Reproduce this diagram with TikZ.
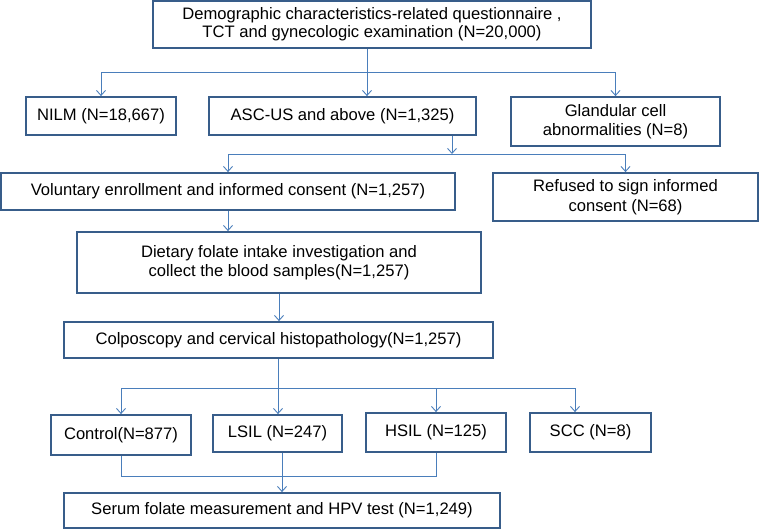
\documentclass[tikz,border=0pt]{standalone}
\usepackage{fontspec}
\setmainfont{Liberation Sans}
\usetikzlibrary{arrows.meta}

\definecolor{boxblue}{HTML}{385D8A}
\definecolor{linkblue}{HTML}{4A7EBB}

\tikzset{
    box/.style={draw=boxblue, line width=1.8pt, inner sep=0pt, align=center,
        font=\fontsize{16.6}{19.5}\selectfont},
    link/.style={draw=linkblue, line width=0.9pt},
    flow/.style={link, -{Straight Barb[length=5pt, width=9pt]}}
}

\begin{document}
\begin{tikzpicture}[x=1pt, y=-1pt]
    \useasboundingbox (0, 0) rectangle (759, 530);

    \node[box, minimum width=438, minimum height=47, font=\fontsize{16.6}{18}\selectfont] (demo) at (372, 24.5) {Demographic characteristics-related questionnaire ,\\TCT and gynecologic examination (N=20,000)};
    \node[box, minimum width=150, minimum height=38] (nilm) at (101, 116) {NILM (N=18,667)};
    \node[box, minimum width=267, minimum height=38] (ascus) at (342.5, 116) {ASC-US and above (N=1,325)};
    \node[box, minimum width=209, minimum height=49] (gland) at (615.5, 121.5) {Glandular cell\\abnormalities (N=8)};
    \node[box, minimum width=454, minimum height=37] (vol) at (228, 191.5) {Voluntary enrollment and informed consent (N=1,257)};
    \node[box, minimum width=265, minimum height=48] (ref) at (625.5, 197) {Refused to sign informed\\consent (N=68)};
    \node[box, minimum width=404, minimum height=61] (diet) at (279, 262.5) {Dietary folate intake investigation and\\collect the blood samples(N=1,257)};
    \node[box, minimum width=429, minimum height=36] (colpo) at (278.5, 340) {Colposcopy and cervical histopathology(N=1,257)};
    \node[box, minimum width=140, minimum height=40] (ctrl) at (121, 435) {Control(N=877)};
    \node[box, minimum width=129, minimum height=37] (lsil) at (277.5, 433.5) {LSIL (N=247)};
    \node[box, minimum width=140, minimum height=39] (hsil) at (436, 432.5) {HSIL (N=125)};
    \node[box, minimum width=121, minimum height=39] (scc) at (590.5, 432.5) {SCC (N=8)};
    \node[box, minimum width=436, minimum height=35] (serum) at (282, 510.5) {Serum folate measurement and HPV test (N=1,249)};

    \coordinate (b1) at (367, 72);
    \coordinate (b2) at (452, 154);
    \coordinate (b3) at (278, 388);
    \coordinate (b3e) at (575, 388);
    \coordinate (b4) at (282, 476);

    \draw[link] (demo.south -| b1) -- (b1);
    \draw[flow] (b1) -- (ascus.north -| b1);
    \draw[flow] (b1) -| (nilm.north);
    \draw[flow] (b1) -| (gland.north);

    \draw[flow] (ascus.south -| b2) -- (b2);
    \draw[flow] (b2) -| (vol.north);
    \draw[flow] (b2) -| (ref.north);

    \draw[flow] (vol.south) -- (vol.south |- diet.north);
    \draw[flow] (diet.south) -- (diet.south |- colpo.north);

    \draw[flow] (colpo.south -| b3) -- (b3 |- lsil.north);
    \draw[flow] (b3) -| (ctrl.north);
    \draw[flow] (b3) -| (hsil.north);
    \draw[flow] (b3) -- (b3e) -- (b3e |- scc.north);

    \draw[link] (ctrl.south) |- (b4);
    \draw[link] (hsil.south) |- (b4);
    \draw[flow] (lsil.south -| b4) -- (b4 |- serum.north);

\end{tikzpicture}
\end{document}
